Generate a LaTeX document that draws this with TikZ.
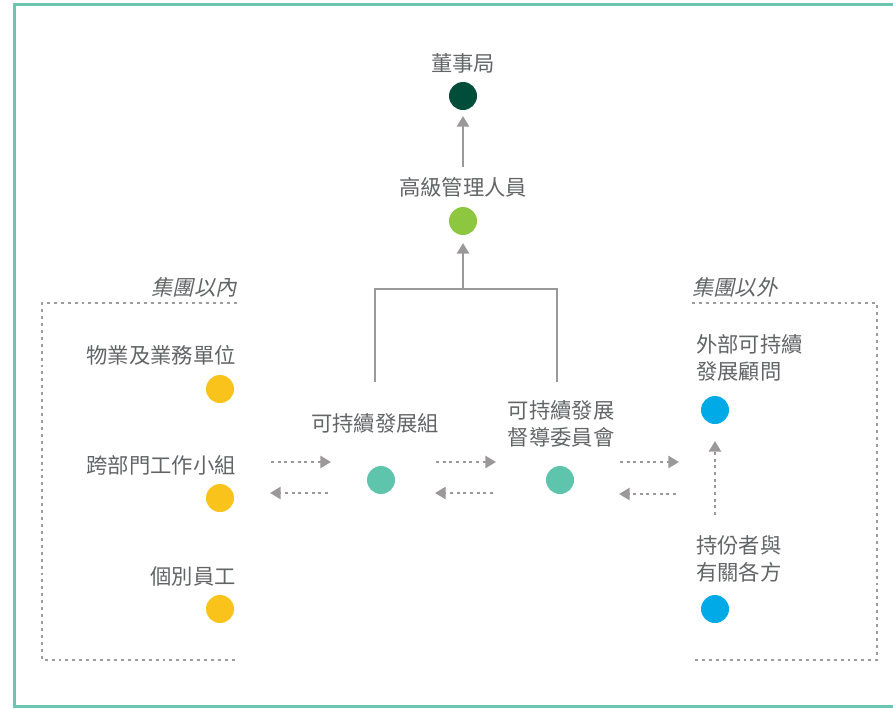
\documentclass[tikz,border=0pt]{standalone}
\usepackage{fontspec}
\setmainfont{Noto Sans CJK TC}
\newfontfamily\cjkit[FakeSlant=0.22]{Noto Sans CJK TC}
\usetikzlibrary{arrows.meta}
\definecolor{framec}{HTML}{6CC5B0}
\definecolor{txtc}{HTML}{636466}
\definecolor{arrc}{HTML}{9A9899}
\definecolor{dotc}{HTML}{9C9C9E}
\definecolor{boardc}{HTML}{004D3A}
\definecolor{mgmtc}{HTML}{8DC63F}
\definecolor{tealc}{HTML}{5EC4AC}
\definecolor{yelc}{HTML}{F9C31B}
\definecolor{bluec}{HTML}{00AAE6}
\tikzset{
  lbl/.style={text=txtc, font=\fontsize{16}{20}\selectfont, inner sep=0pt},
  grp/.style={text=txtc, font=\fontsize{16}{20}\selectfont\cjkit, inner sep=0pt},
  dotn/.style={circle, inner sep=0pt, minimum size=21pt},
  solidarr/.style={draw=arrc, line width=2.1pt, -{Triangle[length=8pt,width=9pt]}},
  dotarr/.style={draw=arrc, line width=2.2pt, dash pattern=on 2.2pt off 2.8pt, -{Triangle[length=8pt,width=9pt]}},
  dotline/.style={draw=dotc, line width=2.2pt, dash pattern=on 2.2pt off 3pt},
  bracket/.style={draw=arrc, line width=2.1pt}
}
\begin{document}
\begin{tikzpicture}[x=0.75pt,y=-0.75pt]
\useasboundingbox (0,0) rectangle (893,708);
% frame
\draw[framec, line width=2.4pt] (900,4.5) -- (14.5,4.5) -- (14.5,706.5) -- (900,706.5);

% top nodes
\node[lbl] (boardt) at (463,63) {董事局};
\node[dotn, fill=boardc] (board) at (463,96) {};
\node[lbl] (mgmtt) at (463,187) {高級管理人員};
\node[dotn, fill=mgmtc] (mgmt) at (463,221) {};

\coordinate (a1s) at (463,167);
\coordinate (a1e) at (463,116);
\draw[solidarr] (a1s) -- (a1e);

% bracket
\coordinate (jn) at (463,289);
\coordinate (jl) at (375,289);
\coordinate (jr) at (557,289);
\coordinate (jlb) at (375,382);
\coordinate (jrb) at (557,382);
\coordinate (a2e) at (463,243);
\draw[bracket] (jlb) -- (jl) -- (jr) -- (jrb);
\draw[solidarr] (jn) -- (a2e);

% middle nodes
\node[lbl] (sgt) at (375,423) {可持續發展組};
\node[dotn, fill=tealc] (sg) at (381,480) {};
\node[lbl, align=center] (sct) at (561,424) {可持續發展\\督導委員會};
\node[dotn, fill=tealc] (sc) at (560,480) {};

% left group
\node[grp, anchor=east] (ingt) at (237,287) {集團以內};
\coordinate (lb1) at (237,303);
\coordinate (lb2) at (42,303);
\coordinate (lb3) at (42,660);
\coordinate (lb4) at (237,660);
\draw[dotline] (lb1) -- (lb2) -- (lb3) -- (lb4);

\node[lbl, anchor=east] (l1t) at (236,355) {物業及業務單位};
\node[dotn, fill=yelc] (l1) at (220,389) {};
\node[lbl, anchor=east] (l2t) at (236,465) {跨部門工作小組};
\node[dotn, fill=yelc] (l2) at (220,498) {};
\node[lbl, anchor=east] (l3t) at (236,576) {個別員工};
\node[dotn, fill=yelc] (l3) at (220,609) {};

% right group
\node[grp, anchor=west] (outgt) at (692,287) {集團以外};
\coordinate (rb1) at (692,303);
\coordinate (rb2) at (877,303);
\coordinate (rb3) at (877,660);
\coordinate (rb4) at (692,660);
\draw[dotline] (rb1) -- (rb2) -- (rb3) -- (rb4);

\node[lbl, anchor=west, align=left] (r1t) at (696,358) {外部可持續\\發展顧問};
\node[dotn, fill=bluec] (r1) at (715,410) {};
\node[lbl, anchor=west, align=left] (r2t) at (696,559) {持份者與\\有關各方};
\node[dotn, fill=bluec] (r2) at (715,609) {};

\coordinate (va) at (715,515);
\coordinate (vb) at (715,441);
\draw[dotarr] (va) -- (vb);

% horizontal dotted arrows
\coordinate (h1a) at (271,462); \coordinate (h1b) at (331,462);
\coordinate (h2a) at (328,493); \coordinate (h2b) at (270,493);
\coordinate (h3a) at (436,462); \coordinate (h3b) at (496,462);
\coordinate (h4a) at (493,493); \coordinate (h4b) at (435,493);
\coordinate (h5a) at (620,462); \coordinate (h5b) at (679,462);
\coordinate (h6a) at (676,494); \coordinate (h6b) at (619,494);
\draw[dotarr] (h1a) -- (h1b);
\draw[dotarr] (h2a) -- (h2b);
\draw[dotarr] (h3a) -- (h3b);
\draw[dotarr] (h4a) -- (h4b);
\draw[dotarr] (h5a) -- (h5b);
\draw[dotarr] (h6a) -- (h6b);
\end{tikzpicture}
\end{document}
